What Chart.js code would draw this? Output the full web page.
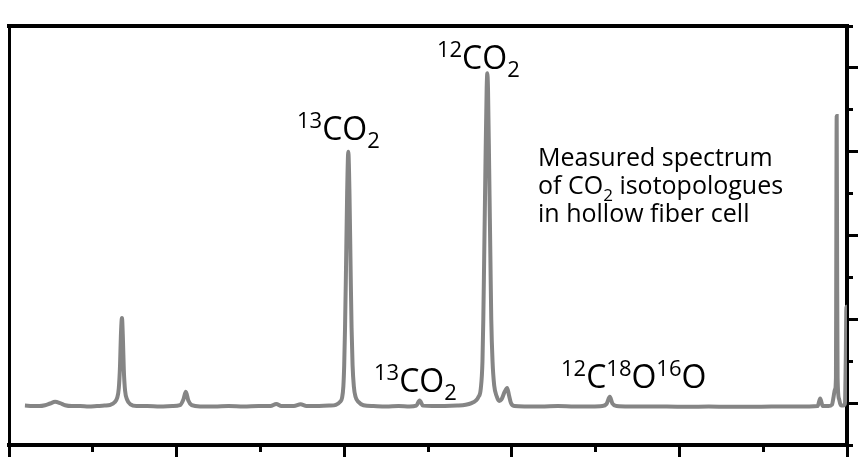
<!DOCTYPE html>
<html>
<head>
<meta charset="utf-8">
<script src="https://cdn.jsdelivr.net/npm/chart.js@4.4.1/dist/chart.umd.min.js"></script>
<style>
  html, body { margin: 0; padding: 0; background: #fff; }
  #wrap { width: 864px; height: 464px; }
</style>
</head>
<body>
<div id="wrap"><canvas id="spectrum"></canvas></div>
<script>
// spectrum (arbitrary units)
const spectrumX = [
  0.19, 0.28, 0.36, 0.43, 0.49, 0.55, 0.61, 0.67, 0.75, 0.85, 0.95, 1.05, 1.14, 1.21,
  1.26, 1.29, 1.31, 1.325, 1.335, 1.348, 1.36, 1.37, 1.385, 1.41, 1.45, 1.52, 1.65, 1.80,
  1.95, 2.04, 2.08, 2.11, 2.14, 2.18, 2.28, 2.45, 2.62, 2.80, 2.98, 3.12, 3.19, 3.25,
  3.40, 3.48, 3.55, 3.70, 3.82, 3.90, 3.95, 3.975, 3.99, 4.00, 4.01, 4.02, 4.035, 4.049,
  4.063, 4.078, 4.088, 4.10, 4.115, 4.135, 4.17, 4.23, 4.35, 4.50, 4.65, 4.78, 4.86, 4.90,
  4.94, 5.05, 5.20, 5.35, 5.45, 5.52, 5.57, 5.60, 5.63, 5.65, 5.66, 5.67, 5.685, 5.70,
  5.708, 5.716, 5.73, 5.745, 5.755, 5.77, 5.79, 5.82, 5.85, 5.875, 5.915, 5.945, 5.965, 5.99,
  6.03, 6.15, 6.35, 6.55, 6.75, 6.95, 7.08, 7.13, 7.17, 7.20, 7.25, 7.40, 7.60, 7.85,
  8.10, 8.35, 8.60, 8.85, 9.10, 9.35, 9.55, 9.65, 9.68, 9.71, 9.78, 9.82, 9.84, 9.855,
  9.868, 9.872, 9.877, 9.882, 9.888, 9.905, 9.925, 9.955, 9.975, 9.985, 9.993, 10.0
];
const spectrumY = [
  -0.06, -0.07, -0.07, -0.05, -0.01, 0.03, 0.00, -0.05, -0.07, -0.07, -0.08, -0.07, -0.06, -0.04,
  0.02, 0.12, 0.35, 0.9, 1.6, 2.03, 1.5, 0.8, 0.3, 0.08, -0.03, -0.07, -0.07, -0.08,
  -0.07, -0.05, 0.08, 0.27, 0.06, -0.05, -0.08, -0.08, -0.07, -0.08, -0.07, -0.07, -0.02, -0.07,
  -0.07, -0.03, -0.07, -0.07, -0.06, -0.04, 0.03, 0.13, 0.4, 0.9, 1.8, 3.0, 5.0, 6.0,
  5.0, 3.0, 1.8, 0.9, 0.4, 0.15, 0.03, -0.05, -0.07, -0.08, -0.07, -0.08, -0.06, 0.06,
  -0.06, -0.07, -0.07, -0.06, -0.04, 0.0, 0.06, 0.14, 0.35, 1.0, 2.0, 3.4, 5.6, 7.5,
  7.87, 7.5, 5.6, 3.4, 2.0, 1.0, 0.42, 0.16, 0.05, 0.08, 0.27, 0.36, 0.2, 0.0,
  -0.07, -0.08, -0.08, -0.07, -0.08, -0.08, -0.07, -0.02, 0.15, -0.01, -0.07, -0.08, -0.08, -0.08,
  -0.09, -0.08, -0.09, -0.09, -0.08, -0.08, -0.08, -0.07, 0.11, -0.07, -0.07, -0.04, 0.15, 0.32,
  0.6, 3.5, 6.85, 3.5, 0.6, 0.1, -0.05, -0.06, -0.02, 1.0, 2.3, 0.6
];

// axis ranges and ticks (no tick labels in the original)
const xRange = [0, 10];
const yRange = [-1, 9];
const tickStep = 1;
const majorEvery = 2;

// peak labels: text pieces ('' normal, 'sup', 'sub') and where they sit in data units
const peakLabels = [
  { x: 3.437, y: 6.28, parts: [["13", "sup"], ["CO", ""], ["2", "sub"]] },
  { x: 5.107, y: 7.97, parts: [["12", "sup"], ["CO", ""], ["2", "sub"]] },
  { x: 4.356, y: 0.265, parts: [["13", "sup"], ["CO", ""], ["2", "sub"]] },
  { x: 6.587, y: 0.36, parts: [["12", "sup"], ["C", ""], ["18", "sup"], ["O", ""], ["16", "sup"], ["O", ""]] }
];
const noteLines = [
  [["Measured spectrum", ""]],
  [["of CO", ""], ["2", "sub"], [" isotopologues", ""]],
  [["in hollow fiber cell", ""]]
];
const notePos = { x: 6.313, y: 5.66 };

const points = spectrumX.map((x, i) => ({ x: x, y: spectrumY[i] }));

// draws one line of text with super/subscripts
function drawRich(ctx, x, y, parts, size, smallSize, up, down) {
  let cx = x;
  parts.forEach(([t, kind]) => {
    const fs = kind ? smallSize : size;
    ctx.font = fs + "px 'Open Sans'";
    let dy = 0;
    if (kind === "sup") dy = -up;
    if (kind === "sub") dy = down;
    ctx.fillText(t, cx, y + dy);
    cx += ctx.measureText(t).width;
  });
}

const labelPlugin = {
  id: "labels",
  afterDatasetsDraw(chart) {
    const { ctx, scales } = chart;
    ctx.save();
    ctx.fillStyle = "#000";
    ctx.textBaseline = "alphabetic";
    ctx.textAlign = "left";
    peakLabels.forEach(l => {
      drawRich(ctx, scales.x.getPixelForValue(l.x), scales.y.getPixelForValue(l.y), l.parts, 32, 22, 12, 8);
    });
    const nx = scales.x.getPixelForValue(notePos.x);
    let ny = scales.y.getPixelForValue(notePos.y);
    noteLines.forEach(line => {
      drawRich(ctx, nx, ny, line, 25, 17, 9, 7);
      ny += 28;
    });
    // top edge of the frame
    const a = chart.chartArea;
    ctx.strokeStyle = "#000";
    ctx.lineWidth = 4;
    ctx.beginPath();
    ctx.moveTo(a.left - 2, a.top);
    ctx.lineTo(a.right, a.top);
    ctx.stroke();
    ctx.restore();
  }
};

const isMajor = v => Math.abs(v % majorEvery) < 1e-6;

new Chart(document.getElementById("spectrum"), {
  type: "line",
  data: {
    datasets: [{
      data: points,
      borderColor: "#858585",
      borderWidth: 4,
      pointRadius: 0,
      cubicInterpolationMode: "monotone",
      fill: false
    }]
  },
  options: {
    responsive: true,
    maintainAspectRatio: false,
    animation: false,
    layout: { padding: { left: 9, top: 26, right: 6, bottom: 7 } },
    plugins: { legend: { display: false }, tooltip: { enabled: false } },
    scales: {
      x: {
        type: "linear", position: "bottom", min: xRange[0], max: xRange[1],
        ticks: { display: false, stepSize: tickStep },
        grid: {
          drawOnChartArea: false, tickLength: 12, tickWidth: 3,
          tickColor: c => isMajor(c.tick.value) ? "#000" : "rgba(0,0,0,0)"
        },
        border: { display: true, width: 4, color: "#000" }
      },
      xMinor: {
        axis: "x", type: "linear", position: { y: yRange[0] }, min: xRange[0], max: xRange[1],
        ticks: { display: false, stepSize: tickStep },
        grid: { drawOnChartArea: false, tickLength: 7, tickWidth: 3, tickColor: "#000" },
        border: { display: false }
      },
      y: {
        type: "linear", position: "right", min: yRange[0], max: yRange[1],
        ticks: { display: false, stepSize: tickStep },
        grid: {
          drawOnChartArea: false, tickLength: 11, tickWidth: 3,
          tickColor: c => isMajor(c.tick.value) ? "#000" : "rgba(0,0,0,0)"
        },
        border: { display: true, width: 4, color: "#000" }
      },
      yMinor: {
        axis: "y", type: "linear", position: { x: xRange[1] }, min: yRange[0], max: yRange[1],
        ticks: { display: false, stepSize: tickStep },
        grid: { drawOnChartArea: false, tickLength: -6, tickWidth: 3, tickColor: "#000" },
        border: { display: false }
      },
      yLeft: {
        axis: "y", type: "linear", position: "left", min: yRange[0], max: yRange[1],
        ticks: { display: false },
        grid: { drawOnChartArea: false, drawTicks: false },
        border: { display: true, width: 3, color: "#000" }
      }
    }
  },
  plugins: [labelPlugin]
});
</script>
</body>
</html>
